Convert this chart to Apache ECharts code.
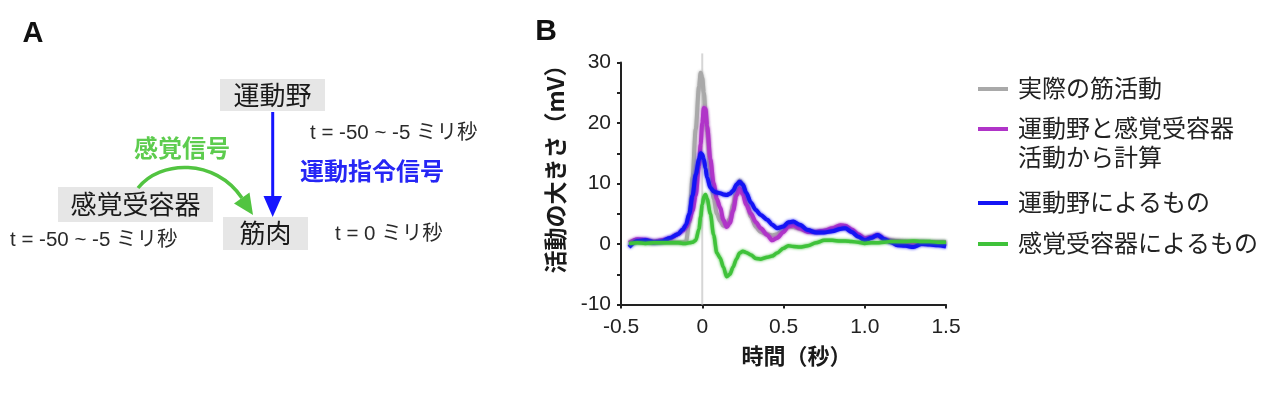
<!DOCTYPE html>
<html>
<head>
<meta charset="utf-8">
<script src="https://cdn.jsdelivr.net/npm/echarts@6/dist/echarts.min.js"></script>
<style>
  html, body { margin: 0; padding: 0; background: #fff; }
  #chart { width: 1280px; height: 396px; }
</style>
</head>
<body>
<div id="chart"></div>
<script>
// 時間（秒）
var times = [-0.45, -0.4, -0.35, -0.3, -0.25, -0.2, -0.15, -0.12, -0.1, -0.08, -0.06, -0.04, -0.02, -0.01,
  0, 0.01, 0.02, 0.03, 0.05, 0.07, 0.09, 0.11, 0.13, 0.15, 0.17, 0.19, 0.21, 0.23, 0.25, 0.27,
  0.3, 0.33, 0.36, 0.4, 0.43, 0.46, 0.5, 0.53, 0.56, 0.6, 0.65, 0.7, 0.75, 0.8, 0.85, 0.88, 0.92, 0.96, 1.0,
  1.04, 1.08, 1.12, 1.16, 1.2, 1.25, 1.3, 1.35, 1.4, 1.45, 1.5];

// 実際の筋活動
var actual = [0.2, 0.4, 0.3, 0.2, 0.3, 0.3, 0.3, 0.3, 0.4, 3.5, 11, 19, 26, 28.3,
  27.5, 25, 22, 18.5, 12, 7.5, 5, 3.8, 3, 3, 4.2, 6.5, 9, 10.5, 9.8, 7.5,
  4.5, 2.8, 2, 1.6, 1.4, 1.6, 2.4, 2.9, 2.8, 2.5, 2.1, 2.0, 2.2, 2.5, 2.9, 2.8, 2.2, 1.5, 1.0,
  1.2, 1.4, 0.8, 0.6, 0.5, 0.4, 0.3, 0.3, 0.2, 0.2, 0.2];

// 運動野と感覚受容器活動から計算
var combined = [0.2, 0.8, 0.7, 0.4, 0.6, 0.9, 1.6, 2.2, 2.8, 3.8, 5.5, 8, 13, 16.5,
  20, 22.5, 22.3, 19.5, 14, 10, 7.5, 6, 4, 2.8, 3.5, 5.5, 8, 9.2, 8.2, 6.5,
  5, 3.6, 2.6, 1.5, 0.6, 1.0, 2.0, 2.9, 3.1, 2.6, 2.0, 2.0, 2.2, 2.6, 3.1, 3.0, 2.4, 1.6, 0.9,
  1.1, 1.5, 0.8, 0.5, 0.4, 0.3, 0.2, 0.3, 0.2, 0.2, 0.2];

// 運動野によるもの
var motor = [-0.5, 0.5, 0.6, 0.3, 0.4, 1.0, 1.6, 2.4, 3.2, 5, 8, 11.5, 14, 15,
  14.8, 14, 12.5, 11, 9.3, 8.7, 8.5, 8.4, 8.2, 8.1, 8.3, 8.8, 9.8, 10.3, 9.8, 8.5,
  6.8, 5.6, 4.8, 4, 3.2, 2.6, 2.9, 3.6, 3.7, 3.2, 2.3, 1.9, 1.9, 2.1, 2.5, 2.6, 2.0, 1.2, 0.6,
  1.0, 1.5, 0.8, 0.3, -0.2, -0.3, -0.5, 0, -0.1, -0.2, -0.4];

// 感覚受容器によるもの
var sensory = [0.1, 0.2, 0.1, 0.2, 0.2, 0.2, 0.2, 0.1, 0.1, 0.2, 0.3, 0.6, 2.5, 4.5,
  6.5, 7.8, 8.2, 7.5, 5, 1.5, -1.5, -2.3, -3.8, -5.4, -5, -3.8, -2.5, -1.5, -1.2, -1.4,
  -1.8, -2.4, -2.5, -2.2, -2, -1.5, -0.7, -0.3, -0.4, -0.5, -0.3, 0.2, 0.6, 0.6, 0.5, 0.5, 0.4, 0.3, 0.1,
  0.2, 0.2, 0.3, 0.4, 0.4, 0.4, 0.5, 0.4, 0.4, 0.3, 0.3];

var seriesNames = ['実際の筋活動', '運動野と感覚受容器\n活動から計算', '運動野によるもの', '感覚受容器によるもの'];
var seriesColors = ['#a9a9a9', '#b034c8', '#1414f5', '#3fc23a'];

var xTicks = ['-0.5', '0', '0.5', '1.0', '1.5'];
var yTicks = ['-10', '0', '10', '20', '30'];

// 刺激時刻の縦線 (t = 0)
var onsetLine = [[0, -10], [0, 31.5]];

var latin = '"Liberation Sans", Arial, sans-serif';
var jp = '"Liberation Sans", "Noto Sans CJK JP", sans-serif';

function pairs(vals) {
  return times.map(function (t, i) { return [t, vals[i]]; });
}

function lineSeries(name, vals, color, width) {
  return {
    name: name,
    type: 'line',
    data: pairs(vals),
    showSymbol: false,
    smooth: 0.3,
    smoothMonotone: 'x',
    silent: true,
    lineStyle: { color: color, width: width, shadowBlur: 3, shadowColor: color }
  };
}

// 凡例（右側）
var legendRows = [88, 128, 202, 243];
var legendGraphic = [];
seriesNames.forEach(function (n, i) {
  legendGraphic.push({
    type: 'line',
    shape: { x1: 978, y1: legendRows[i] + 1, x2: 1008, y2: legendRows[i] + 1 },
    style: { stroke: seriesColors[i], lineWidth: 4 }
  });
  legendGraphic.push({
    type: 'text',
    x: 1018, y: legendRows[i] - 14.5,
    style: { text: n, lineHeight: 29, fill: '#222', font: '24px "Noto Sans CJK JP"', verticalAlign: 'top' }
  });
});

// 図 A
function box(x, y, w, h, label) {
  return [
    { type: 'rect', shape: { x: x, y: y, width: w, height: h }, style: { fill: '#e6e6e6' } },
    { type: 'text', x: x + w / 2, y: y + h / 2,
      style: { text: label, font: '26px "Noto Sans CJK JP"', fill: '#1a1a1a', align: 'center', verticalAlign: 'middle' } }
  ];
}
function label(x, y, text, size, color, bold, align) {
  return { type: 'text', x: x, y: y,
    style: { text: text, font: (bold ? 'bold ' : '') + size + 'px ' + jp, fill: color, align: align || 'left', verticalAlign: 'middle' } };
}

var diagram = [].concat(
  box(220, 79, 105, 32, '運動野'),
  box(58, 187, 155, 35, '感覚受容器'),
  box(223, 217, 85, 33, '筋肉'),
  [
    { type: 'text', x: 33, y: 34, style: { text: 'A', font: 'bold 29px ' + latin, fill: '#111', align: 'center', verticalAlign: 'middle' } },
    { type: 'text', x: 546, y: 32, style: { text: 'B', font: 'bold 30px ' + latin, fill: '#111', align: 'center', verticalAlign: 'middle' } },
    // 運動指令信号の矢印
    { type: 'line', shape: { x1: 272.7, y1: 112, x2: 272.7, y2: 200 }, style: { stroke: '#1515ff', lineWidth: 3 } },
    { type: 'polygon', shape: { points: [[263.5, 196], [282, 196], [272.7, 217]] }, style: { fill: '#1515ff' } },
    // 感覚信号の矢印
    { type: 'bezierCurve', shape: { x1: 138, y1: 188, cpx1: 160, cpy1: 160, cpx2: 215, cpy2: 158, x2: 242, y2: 198 },
      style: { stroke: '#52c441', lineWidth: 3.5, fill: null } },
    { type: 'polygon', shape: { points: [[253, 215], [249.5, 192.5], [234, 203.5]] }, style: { fill: '#52c441' } },
    label(310, 133, 't = -50 ~ -5 ミリ秒', 20.5, '#2a2a2a'),
    label(182, 150, '感覚信号', 24, '#5dcc4e', true, 'center'),
    label(372, 173, '運動指令信号', 24, '#2626f5', true, 'center'),
    label(10, 240, 't = -50 ~ -5 ミリ秒', 20.5, '#2a2a2a'),
    label(335, 234, 't = 0 ミリ秒', 20.5, '#2a2a2a')
  ]
);

var option = {
  animation: false,
  grid: { left: 621, right: 334, top: 62.5, bottom: 91.5 },
  xAxis: {
    type: 'value', min: -0.5, max: 1.5, interval: 0.5,
    splitLine: { show: false },
    axisLine: { onZero: false, lineStyle: { color: '#222', width: 2 } },
    axisTick: { length: 4, lineStyle: { color: '#222', width: 2 } },
    axisLabel: {
      margin: 12, color: '#222', fontSize: 21, fontFamily: 'Liberation Sans',
      formatter: function (v) { return xTicks[Math.round((v + 0.5) / 0.5)]; }
    },
    name: '時間（秒）', nameLocation: 'middle', nameGap: 40,
    nameTextStyle: { fontSize: 22, fontWeight: 'bold', color: '#1a1a1a', fontFamily: 'Noto Sans CJK JP', padding: [0, 0, 0, 26] }
  },
  yAxis: {
    type: 'value', min: -10, max: 30, interval: 5,
    splitLine: { show: false },
    axisLine: { show: true, onZero: false, lineStyle: { color: '#222', width: 2 } },
    axisTick: { show: true, length: 4, lineStyle: { color: '#222', width: 2 } },
    axisLabel: {
      margin: 10, color: '#222', fontSize: 21, fontFamily: 'Liberation Sans',
      formatter: function (v) { return v % 10 === 0 ? yTicks[(v + 10) / 10] : ''; }
    },
    name: '活動の大きさ（mV）', nameLocation: 'middle', nameGap: 54, nameRotate: 90,
    nameTextStyle: { fontSize: 23, fontWeight: 'bold', color: '#1a1a1a', fontFamily: 'Noto Sans CJK JP', padding: [0, 0, 0, 40] }
  },
  series: [
    { type: 'line', data: onsetLine, showSymbol: false, clip: false, silent: true,
      lineStyle: { color: '#d6d6d6', width: 2 } },
    lineSeries(seriesNames[0], actual, seriesColors[0], 4),
    lineSeries(seriesNames[1], combined, seriesColors[1], 4),
    lineSeries(seriesNames[2], motor, seriesColors[2], 4),
    lineSeries(seriesNames[3], sensory, seriesColors[3], 3.5)
  ],
  graphic: diagram.concat(legendGraphic)
};

var myChart = echarts.init(document.getElementById('chart'));
myChart.setOption(option);
</script>
</body>
</html>
